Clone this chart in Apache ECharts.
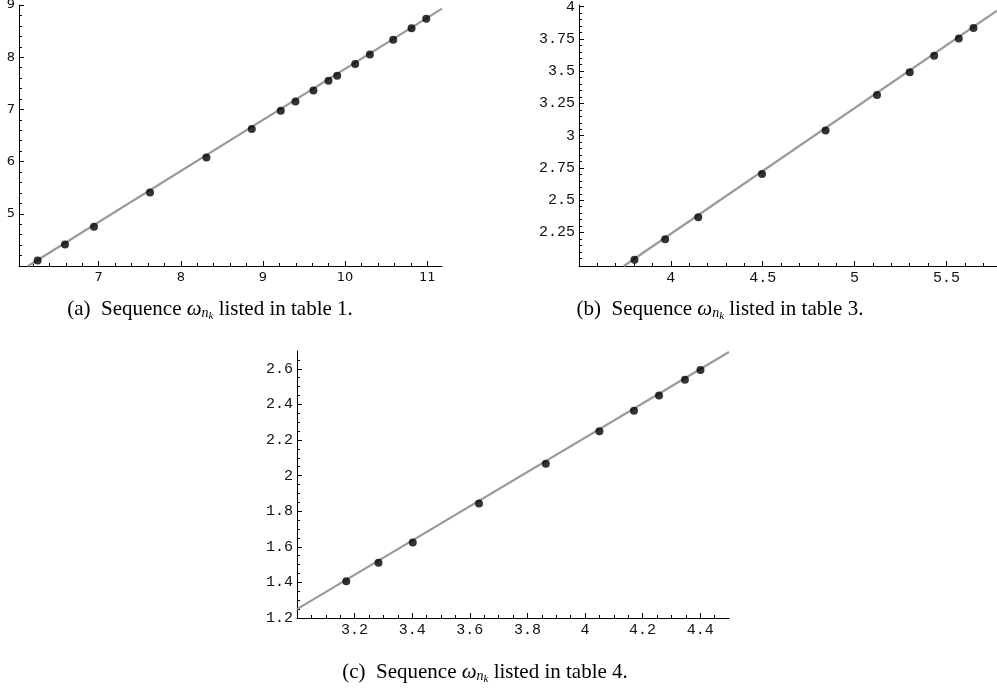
<!DOCTYPE html>
<html>
<head>
<meta charset="utf-8">
<script src="https://cdn.jsdelivr.net/npm/echarts@6/dist/echarts.min.js"></script>
<style>
  html, body { margin: 0; padding: 0; background: #fff; }
  #chart { width: 997px; height: 693px; }
</style>
</head>
<body>
<div id="chart"></div>
<script>
// panel (a): sequence from table 1
const ptsAx = [6.257, 6.590, 6.943, 7.625, 8.312, 8.864, 9.217, 9.396, 9.615, 9.798, 9.904, 10.123, 10.302, 10.586, 10.809, 10.988]
const ptsAy = [4.105, 4.412, 4.751, 5.409, 6.080, 6.623, 6.974, 7.153, 7.364, 7.550, 7.645, 7.869, 8.054, 8.335, 8.553, 8.738]
const fitAx = [6.14, 11.18]
const fitAy = [4.0, 8.93]
const xTicksA = [7, 8, 9, 10, 11]
const yTicksA = [5, 6, 7, 8, 9]

// panel (b): sequence from table 3
const ptsBx = [3.802, 3.969, 4.149, 4.496, 4.842, 5.122, 5.300, 5.433, 5.567, 5.647]
const ptsBy = [2.038, 2.198, 2.367, 2.703, 3.041, 3.315, 3.491, 3.620, 3.754, 3.835]
const fitBx = [3.744, 5.775]
const fitBy = [1.99, 3.969]
const xTicksB = [4, 4.5, 5, 5.5]
const yTicksB = [2.25, 2.5, 2.75, 3, 3.25, 3.5, 3.75, 4]

// panel (c): sequence from table 4
const ptsCx = [3.171, 3.283, 3.402, 3.632, 3.864, 4.050, 4.170, 4.257, 4.347, 4.401]
const ptsCy = [1.406, 1.511, 1.624, 1.843, 2.067, 2.249, 2.365, 2.450, 2.538, 2.593]
const fitCx = [3.0, 4.5]
const fitCy = [1.250, 2.694]
const xTicksC = [3.2, 3.4, 3.6, 3.8, 4, 4.2, 4.4]
const yTicksC = [1.2, 1.4, 1.6, 1.8, 2, 2.2, 2.4, 2.6]

const chart = echarts.init(document.getElementById('chart'))

// minor tick positions between from..to, skipping the majors
const minorTicks = (from, to, step, majors) => {
  const out = []
  const n = Math.round((to - from) / step)
  for (let i = 0; i <= n; i++) {
    const v = +(from + i * step).toFixed(4)
    if (!majors.some((m) => Math.abs(m - v) < 1e-6)) out.push(v)
  }
  return out
}

const zip = (xs, ys) => xs.map((x, i) => [x, ys[i]])

const sansLabel = { fontFamily: 'DejaVu Sans', fontSize: 13 }
const monoLabel = { fontFamily: 'Liberation Mono', fontSize: 15 }

// one axis with major ticks + labels, a twin with minor ticks only
const makeAxes = (dim, gridIndex, min, max, majors, minors, font) => {
  const isX = dim === 'x'
  const base = {
    type: 'value',
    gridIndex,
    min,
    max,
    position: isX ? 'bottom' : 'left',
    splitLine: { show: false },
  }
  const major = {
    ...base,
    axisLine: { show: true, onZero: false, lineStyle: { color: '#000', width: 1 } },
    axisTick: { show: true, inside: true, length: 5, customValues: majors, lineStyle: { color: '#000' } },
    axisLabel: {
      show: true,
      customValues: majors,
      color: '#111',
      margin: isX ? 5 : 4,
      formatter: (v) => String(v),
      ...font,
    },
  }
  const minor = {
    ...base,
    axisLine: { show: false, onZero: false },
    axisTick: { show: true, inside: true, length: 3, customValues: minors, lineStyle: { color: '#000' } },
    axisLabel: { show: false },
  }
  return [major, minor]
}

const grids = [
  { left: 19, top: 5, width: 423, height: 261 },
  { left: 579, top: 5, width: 418, height: 261 },
  { left: 297, top: 351, width: 432, height: 267 },
].map((g) => ({ ...g, outerBoundsMode: 'none', containLabel: false }))

const xAxes = [
  ...makeAxes('x', 0, 6.03, 11.18, xTicksA, minorTicks(6.2, 11.0, 0.2, xTicksA), sansLabel),
  ...makeAxes('x', 1, 3.5, 5.775, xTicksB, minorTicks(3.6, 5.7, 0.1, xTicksB), monoLabel),
  ...makeAxes('x', 2, 3.0, 4.5, xTicksC, minorTicks(3.05, 4.45, 0.05, xTicksC), monoLabel),
]
const yAxes = [
  ...makeAxes('y', 0, 4.0, 9.0, yTicksA, minorTicks(4.2, 8.8, 0.2, yTicksA), sansLabel),
  ...makeAxes('y', 1, 1.99, 4.013, yTicksB, minorTicks(2.05, 3.95, 0.05, yTicksB), monoLabel),
  ...makeAxes('y', 2, 1.2, 2.7, yTicksC, minorTicks(1.25, 2.65, 0.05, yTicksC), monoLabel),
]

const panels = [
  { fit: zip(fitAx, fitAy), pts: zip(ptsAx, ptsAy) },
  { fit: zip(fitBx, fitBy), pts: zip(ptsBx, ptsBy) },
  { fit: zip(fitCx, fitCy), pts: zip(ptsCx, ptsCy) },
]

const series = []
panels.forEach((p, i) => {
  series.push({
    type: 'line',
    xAxisIndex: i * 2,
    yAxisIndex: i * 2,
    data: p.fit,
    symbol: 'none',
    silent: true,
    lineStyle: { color: '#9a9a9a', width: 2.2 },
    z: 1,
  })
  series.push({
    type: 'scatter',
    xAxisIndex: i * 2,
    yAxisIndex: i * 2,
    data: p.pts,
    symbol: 'circle',
    symbolSize: 8,
    itemStyle: { color: '#000' },
    z: 2,
  })
})

const captionRich = {
  t: { fontFamily: 'Liberation Serif', fontSize: 21, color: '#222', lineHeight: 26 },
  w: { fontFamily: 'Liberation Serif', fontStyle: 'italic', fontSize: 21, color: '#222', lineHeight: 26 },
  n: { fontFamily: 'Liberation Serif', fontStyle: 'italic', fontSize: 14, color: '#222', lineHeight: 14, verticalAlign: 'bottom', padding: [0, 0, 2, 0] },
  k: { fontFamily: 'Liberation Serif', fontStyle: 'italic', fontSize: 11, color: '#222', lineHeight: 11, verticalAlign: 'bottom' },
}
const caption = (label, table, x, y) => ({
  type: 'text',
  x,
  y,
  style: {
    text: `{t|(${label})  Sequence }{w|ω}{n|n}{k|k}{t| listed in table ${table}.}`,
    rich: captionRich,
    align: 'center',
    verticalAlign: 'middle',
  },
})

const option = {
  backgroundColor: '#fff',
  animation: false,
  grid: grids,
  xAxis: xAxes,
  yAxis: yAxes,
  series,
  graphic: [
    caption('a', 1, 210, 309),
    caption('b', 3, 720, 309),
    caption('c', 4, 485, 672),
  ],
}

chart.setOption(option)
window.addEventListener('resize', () => chart.resize())
</script>
</body>
</html>
